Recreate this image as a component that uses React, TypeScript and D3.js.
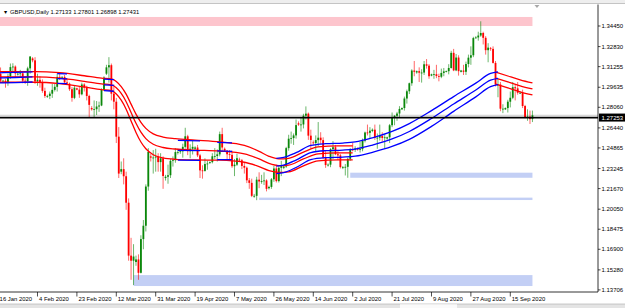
import React from "react";
import * as d3 from "d3";

// ---------- DATA (GBPUSD Daily, one bar per trading day incl. Sunday bars) ----------
const symbolTitle = "GBPUSD,Daily";
const headerValues = ["1.27133", "1.27801", "1.26898", "1.27431"];

// [open, high, low, close]
const jan: number[][] = [
  [1.3045, 1.3085, 1.3027, 1.3068], [1.3068, 1.3119, 1.3, 1.3015], [1.301, 1.3022, 1.3005, 1.3015],
  [1.3015, 1.303, 1.296, 1.3002], [1.3002, 1.307, 1.2975, 1.305], [1.305, 1.315, 1.303, 1.3122],
  [1.3122, 1.3152, 1.308, 1.3126], [1.3126, 1.3135, 1.304, 1.3072], [1.3068, 1.308, 1.3055, 1.307],
  [1.307, 1.31, 1.3045, 1.3073], [1.3073, 1.3088, 1.2995, 1.3015], [1.3015, 1.305, 1.299, 1.301],
  [1.301, 1.3125, 1.2975, 1.3112], [1.3112, 1.3208, 1.307, 1.3205],
];
const feb: number[][] = [
  [1.319, 1.32, 1.316, 1.3175], [1.3175, 1.32, 1.299, 1.301], [1.301, 1.307, 1.2975, 1.3022],
  [1.3022, 1.305, 1.296, 1.2997], [1.2997, 1.3025, 1.292, 1.2935], [1.2935, 1.296, 1.288, 1.2895],
  [1.289, 1.2905, 1.288, 1.2895], [1.2895, 1.293, 1.287, 1.2913], [1.2913, 1.299, 1.288, 1.2943],
  [1.2943, 1.299, 1.293, 1.2967], [1.2967, 1.307, 1.293, 1.3045], [1.3045, 1.307, 1.302, 1.3038],
  [1.304, 1.305, 1.3035, 1.3045], [1.3045, 1.306, 1.2995, 1.3002], [1.3002, 1.3035, 1.2985, 1.2992],
  [1.2992, 1.3, 1.2935, 1.2948], [1.2948, 1.2965, 1.285, 1.288], [1.288, 1.2975, 1.287, 1.296],
  [1.2955, 1.296, 1.294, 1.2945], [1.2945, 1.297, 1.288, 1.2908], [1.2908, 1.3, 1.29, 1.2985],
  [1.2985, 1.2995, 1.293, 1.296], [1.296, 1.2975, 1.286, 1.2895], [1.2895, 1.2905, 1.2725, 1.2825],
];
const mar: number[][] = [
  [1.28, 1.2815, 1.278, 1.279], [1.279, 1.286, 1.2725, 1.2791], [1.2791, 1.2855, 1.2745, 1.2812],
  [1.2812, 1.285, 1.277, 1.282], [1.282, 1.2955, 1.2815, 1.2943], [1.2943, 1.305, 1.2935, 1.304],
  [1.307, 1.314, 1.306, 1.312], [1.312, 1.32, 1.3, 1.3137], [1.3137, 1.315, 1.286, 1.2913],
  [1.2913, 1.2985, 1.279, 1.285], [1.285, 1.288, 1.2525, 1.2575], [1.2575, 1.265, 1.225, 1.2285],
  [1.23, 1.238, 1.228, 1.232], [1.232, 1.2405, 1.22, 1.2264], [1.2264, 1.23, 1.2, 1.2056],
  [1.2056, 1.209, 1.16, 1.164], [1.164, 1.178, 1.145, 1.16], [1.16, 1.173, 1.1409, 1.1633],
  [1.159, 1.164, 1.156, 1.161], [1.161, 1.165, 1.145, 1.1505], [1.1505, 1.18, 1.15, 1.177],
  [1.177, 1.192, 1.169, 1.1875], [1.1875, 1.22, 1.183, 1.2183], [1.2183, 1.2485, 1.215, 1.2455],
  [1.242, 1.244, 1.238, 1.241], [1.241, 1.247, 1.2285, 1.2411], [1.2411, 1.248, 1.23, 1.2418],
];
const apr: number[][] = [
  [1.2418, 1.2445, 1.23, 1.2375], [1.2375, 1.2445, 1.23, 1.2405], [1.2405, 1.242, 1.2165, 1.2266],
  [1.225, 1.2275, 1.223, 1.226], [1.226, 1.2355, 1.2205, 1.2272], [1.2272, 1.24, 1.225, 1.2385],
  [1.2385, 1.242, 1.234, 1.239], [1.239, 1.2485, 1.237, 1.2454], [1.2454, 1.248, 1.2435, 1.2455],
  [1.2455, 1.247, 1.244, 1.246], [1.246, 1.252, 1.241, 1.2495], [1.2495, 1.2645, 1.248, 1.2578],
  [1.2578, 1.259, 1.243, 1.2461], [1.2461, 1.2515, 1.2405, 1.248], [1.248, 1.2545, 1.2435, 1.2495],
  [1.248, 1.25, 1.247, 1.249], [1.249, 1.251, 1.2415, 1.2428], [1.2428, 1.244, 1.225, 1.231],
  [1.231, 1.235, 1.2245, 1.2306], [1.2306, 1.2405, 1.23, 1.236], [1.236, 1.2385, 1.2315, 1.2364],
  [1.237, 1.238, 1.236, 1.2375], [1.2375, 1.2445, 1.2365, 1.2421], [1.2421, 1.2485, 1.24, 1.2423],
  [1.2423, 1.2475, 1.238, 1.2436], [1.2436, 1.2615, 1.242, 1.2595],
];
const may: number[][] = [
  [1.2595, 1.2645, 1.246, 1.249], [1.248, 1.249, 1.2455, 1.2465], [1.2465, 1.247, 1.24, 1.2437],
  [1.2437, 1.247, 1.24, 1.2432], [1.2432, 1.2465, 1.233, 1.2343], [1.2343, 1.24, 1.2265, 1.2355],
  [1.2355, 1.244, 1.2345, 1.2406], [1.2395, 1.241, 1.238, 1.239], [1.239, 1.24, 1.232, 1.2345],
  [1.2345, 1.2375, 1.2285, 1.2331], [1.2331, 1.234, 1.221, 1.2232], [1.2232, 1.225, 1.2165, 1.2212],
  [1.2212, 1.2245, 1.21, 1.211], [1.2105, 1.2125, 1.2095, 1.211], [1.211, 1.226, 1.2076, 1.2237],
  [1.2237, 1.2295, 1.217, 1.2223], [1.2223, 1.2275, 1.2205, 1.2225], [1.2225, 1.2295, 1.2195, 1.2231],
  [1.2231, 1.224, 1.2145, 1.2165], [1.217, 1.219, 1.216, 1.218], [1.218, 1.225, 1.2165, 1.224],
  [1.224, 1.2345, 1.222, 1.2325], [1.2325, 1.2355, 1.2215, 1.2226], [1.2226, 1.235, 1.2215, 1.233],
  [1.233, 1.2385, 1.2265, 1.2345], [1.233, 1.2355, 1.232, 1.234],
];
const jun: number[][] = [
  [1.234, 1.2495, 1.233, 1.2485], [1.2485, 1.259, 1.2465, 1.2559], [1.2559, 1.2615, 1.252, 1.2564],
  [1.2564, 1.26, 1.251, 1.2585], [1.2585, 1.271, 1.256, 1.2666], [1.268, 1.2695, 1.266, 1.267],
  [1.267, 1.273, 1.2615, 1.2671], [1.2671, 1.2755, 1.264, 1.274], [1.274, 1.2813, 1.271, 1.2756],
  [1.2756, 1.2765, 1.255, 1.2583], [1.2583, 1.263, 1.248, 1.2549], [1.253, 1.2545, 1.251, 1.2525],
  [1.2525, 1.2585, 1.2455, 1.2548], [1.2548, 1.269, 1.25, 1.2567], [1.2567, 1.261, 1.252, 1.2548],
  [1.2548, 1.257, 1.24, 1.241], [1.241, 1.2465, 1.233, 1.2352], [1.235, 1.2365, 1.234, 1.2355],
  [1.2355, 1.2485, 1.2335, 1.2477], [1.2477, 1.254, 1.24, 1.2492], [1.2492, 1.251, 1.243, 1.2437],
  [1.2437, 1.2465, 1.239, 1.2428], [1.2428, 1.244, 1.2325, 1.2336], [1.233, 1.2345, 1.232, 1.2335],
  [1.2335, 1.236, 1.227, 1.2338], [1.2338, 1.241, 1.2252, 1.2401],
];
const jul: number[][] = [
  [1.2401, 1.2485, 1.2385, 1.2474], [1.2474, 1.253, 1.246, 1.2472], [1.2472, 1.25, 1.2455, 1.2483],
  [1.248, 1.249, 1.2465, 1.2475], [1.2475, 1.2535, 1.245, 1.2477], [1.2477, 1.256, 1.246, 1.2543],
  [1.2543, 1.2615, 1.253, 1.2608], [1.2608, 1.267, 1.2585, 1.2605], [1.2605, 1.265, 1.256, 1.2622],
  [1.262, 1.264, 1.261, 1.263], [1.263, 1.267, 1.255, 1.2566], [1.2566, 1.26, 1.248, 1.2567],
  [1.2567, 1.267, 1.2545, 1.258], [1.258, 1.261, 1.2535, 1.2565], [1.2565, 1.259, 1.248, 1.257],
  [1.256, 1.2575, 1.255, 1.257], [1.257, 1.2675, 1.2525, 1.2665], [1.2665, 1.2765, 1.265, 1.2727],
  [1.2727, 1.2745, 1.2665, 1.2739], [1.2739, 1.277, 1.27, 1.2757], [1.2757, 1.2815, 1.273, 1.2793],
  [1.279, 1.2805, 1.2785, 1.28], [1.28, 1.289, 1.278, 1.2875], [1.2875, 1.2945, 1.2835, 1.2932],
  [1.2932, 1.3, 1.291, 1.2995], [1.2995, 1.3105, 1.2975, 1.3095], [1.3095, 1.317, 1.305, 1.3085],
];
const aug: number[][] = [
  [1.308, 1.3095, 1.307, 1.309], [1.309, 1.312, 1.3005, 1.3078], [1.3078, 1.3105, 1.3, 1.3079],
  [1.3079, 1.317, 1.306, 1.3144], [1.3144, 1.3185, 1.311, 1.3133], [1.3133, 1.3145, 1.303, 1.305],
  [1.3055, 1.307, 1.305, 1.3065], [1.3065, 1.31, 1.303, 1.3066], [1.3066, 1.314, 1.3035, 1.3052],
  [1.3052, 1.307, 1.301, 1.3046], [1.3046, 1.311, 1.3035, 1.3076], [1.3076, 1.3115, 1.305, 1.3088],
  [1.3085, 1.3095, 1.308, 1.309], [1.309, 1.3145, 1.3065, 1.3115], [1.3115, 1.325, 1.311, 1.3234],
  [1.3234, 1.3265, 1.309, 1.3096], [1.3096, 1.3225, 1.309, 1.3197], [1.3197, 1.3215, 1.3055, 1.309],
  [1.3085, 1.31, 1.308, 1.3095], [1.3095, 1.314, 1.306, 1.3085], [1.3085, 1.3165, 1.306, 1.3146],
  [1.3146, 1.322, 1.312, 1.3196], [1.3196, 1.3285, 1.314, 1.3215], [1.3215, 1.336, 1.32, 1.335],
  [1.335, 1.3365, 1.3345, 1.3355], [1.3355, 1.34, 1.333, 1.337],
];
const sep: number[][] = [
  [1.337, 1.3482, 1.336, 1.339], [1.339, 1.34, 1.33, 1.3352], [1.3352, 1.3365, 1.322, 1.3255],
  [1.3255, 1.331, 1.316, 1.3275], [1.327, 1.328, 1.325, 1.3265], [1.3265, 1.3285, 1.315, 1.3155],
  [1.3155, 1.317, 1.297, 1.2985], [1.2985, 1.303, 1.2885, 1.2985], [1.2985, 1.3005, 1.2775, 1.2795],
  [1.2795, 1.283, 1.276, 1.2795], [1.279, 1.2805, 1.2785, 1.28], [1.28, 1.2865, 1.2765, 1.285],
  [1.285, 1.293, 1.2805, 1.2881], [1.2881, 1.3005, 1.287, 1.2964], [1.2964, 1.2985, 1.286, 1.2955],
  [1.2955, 1.3005, 1.2905, 1.292], [1.2915, 1.293, 1.291, 1.292], [1.292, 1.2945, 1.28, 1.2816],
  [1.2816, 1.2825, 1.272, 1.2727], [1.2727, 1.279, 1.27, 1.2733], [1.2733, 1.278, 1.2675, 1.2713],
  [1.27133, 1.27801, 1.26898, 1.27431],
];
const candles = [...jan, ...feb, ...mar, ...apr, ...may, ...jun, ...jul, ...aug, ...sep];

// Indicator bands: [bar index, middle price, half width]
const redBandA: number[][] = [
  [0, 1.3045, 0.0042], [15, 1.3045, 0.0042], [25, 1.3035, 0.0043], [35, 1.301, 0.0044],
  [42, 1.299, 0.0045], [46, 1.2983, 0.0046], [48, 1.296, 0.0049], [50, 1.2915, 0.0053],
  [52, 1.285, 0.0059], [54, 1.2765, 0.0066], [56, 1.268, 0.0072], [58, 1.261, 0.0077],
  [60, 1.256, 0.008], [63, 1.2515, 0.0082], [67, 1.249, 0.0082], [72, 1.2478, 0.0081],
  [80, 1.247, 0.0078], [90, 1.2462, 0.0072], [100, 1.244, 0.0066], [106, 1.24, 0.006],
  [110, 1.2365, 0.0056], [114, 1.2348, 0.0053], [118, 1.2352, 0.0053], [124, 1.24, 0.0054],
  [130, 1.244, 0.0055], [138, 1.2447, 0.0055], [144, 1.2447, 0.0055],
];
const redBandB: number[][] = [
  [202, 1.3036, 0.0047], [207, 1.3005, 0.0047], [212, 1.2975, 0.0047], [217, 1.295, 0.0047],
];
const blueBandMain: number[][] = [
  [113, 1.2344, 0.006], [116, 1.2352, 0.006], [121, 1.2391, 0.0058], [127, 1.245, 0.0056],
  [133, 1.2465, 0.0055], [140, 1.247, 0.0055], [145, 1.2478, 0.0056], [152, 1.2509, 0.0057],
  [160, 1.2557, 0.0059], [167, 1.2616, 0.0062], [176, 1.2718, 0.0062], [185, 1.2832, 0.0058],
  [194, 1.2942, 0.0054], [200, 1.302, 0.0052], [203, 1.3034, 0.005],
];
const blueBandShort: number[][][] = [
  [[0, 1.3037, 0.004], [7, 1.304, 0.004], [14, 1.3045, 0.004]],
  [[24, 1.3032, 0.0038], [28, 1.303, 0.0038]],
  [[43, 1.2982, 0.0045], [47, 1.2978, 0.0046]],
  [[73, 1.2468, 0.0078], [82, 1.2465, 0.0077]],
  [[89, 1.2463, 0.0068], [95, 1.246, 0.0066]],
];

// Zones: [start bar, upper price, lower price]
const resistanceZones: number[][] = [[-1, 1.3516, 1.3445]];
const supportZones: number[][] = [[55, 1.1487, 1.1401], [106, 1.2096, 1.2077], [143, 1.2292, 1.2252]];

const priceTicks = [1.3445, 1.3283, 1.31255, 1.29635, 1.2806, 1.2644, 1.24865, 1.23245, 1.2167, 1.2005, 1.18475, 1.169, 1.1528, 1.13706];
const timeLabels = [
  "16 Jan 2020", "4 Feb 2020", "23 Feb 2020", "12 Mar 2020", "31 Mar 2020", "19 Apr 2020", "7 May 2020",
  "26 May 2020", "14 Jun 2020", "2 Jul 2020", "21 Jul 2020", "9 Aug 2020", "27 Aug 2020", "15 Sep 2020",
];
const labelEveryBars = 16;
const hLinePrice = 1.27253;
const bidPrice = 1.27431;

// ---------- CHART ----------
const W = 625;
const H = 308;
const AX_X = 598;
const AX_Y = 292;
const TOP = 4.5;
const FONT = "'Liberation Sans', Arial, sans-serif";
const UP = "#0a870a";
const DOWN = "#ff0000";

export default function App() {
  const x = d3.scaleLinear().domain([0, candles.length - 1]).range([-1.9, 532.45]);
  const y = d3.scaleLinear().domain([1.13706, 1.3445]).range([289.9, 26]);
  const lastX = x(candles.length - 1);

  const bandPaths = (pts: number[][]) =>
    [-1, 0, 1].map((k) =>
      d3
        .line<number[]>()
        .x((d) => x(d[0]))
        .y((d) => y(d[1] + k * d[2]))
        .curve(d3.curveMonotoneX)(pts) as string
    );

  const bodyW = 1.8;

  return (
    <svg
      width={W}
      height={H}
      viewBox={`0 0 ${W} ${H}`}
      style={{ position: "fixed", left: 0, top: 0, background: "#fff" }}
      fontFamily={FONT}
    >
      <defs>
        <clipPath id="plot">
          <rect x={0} y={TOP} width={AX_X} height={AX_Y - TOP} />
        </clipPath>
      </defs>
      {/* toolbar strip */}
      <rect x={0} y={0} width={W} height={3.5} fill="#eeeeee" />
      <line x1={0} x2={W} y1={3.5} y2={3.5} stroke="#b8b8b8" strokeWidth={0.8} />

      <g clipPath="url(#plot)">
        {resistanceZones.map((z, i) => (
          <rect key={"r" + i} x={x(z[0])} y={y(z[1])} width={lastX - x(z[0])} height={y(z[2]) - y(z[1])} fill="#fdc5cd" />
        ))}
        {supportZones.map((z, i) => (
          <rect key={"s" + i} x={x(z[0])} y={y(z[1])} width={lastX - x(z[0])} height={y(z[2]) - y(z[1])} fill="#c3cff5" />
        ))}

        {/* bid line */}
        <line x1={0} x2={AX_X} y1={y(bidPrice)} y2={y(bidPrice)} stroke="#c0c0c0" strokeWidth={0.8} />

        {/* candles */}
        {candles.map((c, i) => {
          const [o, h, l, cl] = c;
          const col = cl >= o ? UP : DOWN;
          const cx = x(i);
          const top = y(Math.max(o, cl));
          const bot = y(Math.min(o, cl));
          return (
            <g key={i}>
              <line x1={cx} x2={cx} y1={y(h)} y2={y(l)} stroke={col} strokeWidth={0.6} />
              <rect x={cx - bodyW / 2} y={top} width={bodyW} height={Math.max(bot - top, 0.8)} fill={col} />
            </g>
          );
        })}

        {/* red band */}
        {[redBandA, redBandB].map((seg, si) =>
          bandPaths(seg).map((p, k) => <path key={"rb" + si + k} d={p} fill="none" stroke="#ff0000" strokeWidth={1.3} />)
        )}
        {/* blue band */}
        {[blueBandMain, ...blueBandShort].map((seg, si) =>
          bandPaths(seg).map((p, k) => <path key={"bb" + si + k} d={p} fill="none" stroke="#0000ff" strokeWidth={1.3} />)
        )}

        {/* horizontal line */}
        <line x1={0} x2={AX_X} y1={y(hLinePrice)} y2={y(hLinePrice)} stroke="#000" strokeWidth={1.8} />
      </g>

      {/* chart shift marker */}
      <path d={`M${x(candles.length - 1) + 2},5 l5,0 l-2.5,3 z`} fill="#a8a8a8" />

      {/* header */}
      <text x={3} y={14.3} fontSize={5.2} fill="#000">▼</text>
      <text x={10} y={14.3} fontSize={5.8} fill="#000">
        {symbolTitle + " " + headerValues.join(" ")}
      </text>

      {/* axes */}
      <line x1={AX_X} x2={AX_X} y1={TOP} y2={AX_Y} stroke="#000" strokeWidth={0.8} />
      <line x1={0} x2={AX_X} y1={AX_Y} y2={AX_Y} stroke="#000" strokeWidth={0.8} />

      {priceTicks.map((p) => (
        <g key={p}>
          <line x1={AX_X} x2={AX_X + 2.5} y1={y(p)} y2={y(p)} stroke="#000" strokeWidth={0.7} />
          <text x={AX_X + 3.5} y={y(p) + 2} fontSize={6} fill="#000">
            {p.toFixed(5)}
          </text>
        </g>
      ))}
      {/* current line price box */}
      <rect x={AX_X + 1} y={y(hLinePrice) - 4} width={W - AX_X - 1} height={8} fill="#000" />
      <text x={AX_X + 3.5} y={y(hLinePrice) + 2} fontSize={6} fill="#fff">
        {hLinePrice.toFixed(5)}
      </text>

      {timeLabels.map((t, k) => {
        const tx = x(k * labelEveryBars);
        return (
          <g key={t}>
            <line x1={tx} x2={tx} y1={AX_Y} y2={AX_Y + 4.5} stroke="#000" strokeWidth={0.7} />
            <text x={tx + 1.5} y={AX_Y + 8.5} fontSize={5.9} fill="#000">
              {t}
            </text>
          </g>
        );
      })}

      {/* bottom tab strip */}
      <rect x={0} y={304} width={W} height={4} fill="#e4e4e4" />
      <line x1={0} x2={W} y1={304} y2={304} stroke="#a8a8a8" strokeWidth={0.6} />
      <rect x={400} y={304.3} width={57} height={3.7} fill="#fafafa" />
    </svg>
  );
}
